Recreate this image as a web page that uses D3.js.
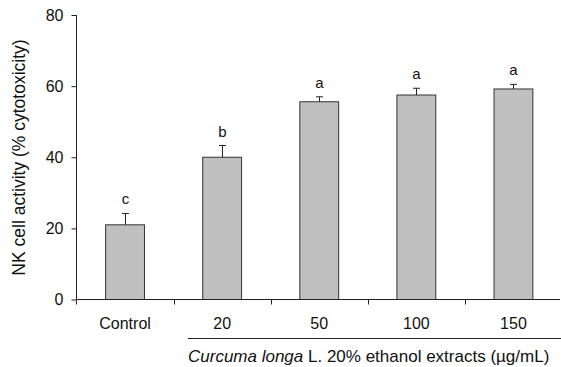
<!DOCTYPE html>
<html><head><meta charset="utf-8">
<script src="https://cdn.jsdelivr.net/npm/d3@7"></script>
<style>body{margin:0;background:#fff}svg{display:block}text{font-family:"Liberation Sans",Arial,sans-serif;fill:#111}</style>
</head><body>
<script>
const categories = ["Control","20","50","100","150"];
const values = [21.0, 40.0, 55.6, 57.5, 59.2];
const errors = [3.2, 3.3, 1.4, 1.9, 1.3];
const letters = ["c","b","a","a","a"];
const yTicks = [0,20,40,60,80];
const yLabel = "NK cell activity (% cytotoxicity)";
const groupTitleItalic = "Curcuma longa";
const groupTitleRest = " L. 20% ethanol extracts (\u00b5g/mL)";

const W=561,H=367;
const svg=d3.select("body").append("svg").attr("width",W).attr("height",H);
const x=d3.scaleBand().domain(categories).range([76.5,562]).paddingInner(0.6).paddingOuter(0.3);
const xb=d3.scaleBand().domain(categories).range([76.5,562]);
const y=d3.scaleLinear().domain([0,80]).range([299.5,15]);

// bars
svg.selectAll("rect.bar").data(values).join("rect")
  .attr("x",(d,i)=>x(categories[i])).attr("width",x.bandwidth())
  .attr("y",d=>y(d)).attr("height",d=>y(0)-y(d))
  .attr("fill","#c0c0c0").attr("stroke","#333").attr("stroke-width",1);
// error bars
const g=svg.append("g").attr("stroke","#222").attr("stroke-width",1);
values.forEach((v,i)=>{
  const cx=Math.round(x(categories[i])+x.bandwidth()/2)+0.5;
  g.append("line").attr("x1",cx).attr("x2",cx).attr("y1",y(v)).attr("y2",y(v+errors[i]));
  g.append("line").attr("x1",cx-3.5).attr("x2",cx+3.5).attr("y1",y(v+errors[i])).attr("y2",y(v+errors[i]));
  svg.append("text").attr("x",cx).attr("y",y(v+errors[i])-9).attr("text-anchor","middle")
    .attr("font-size",15).text(letters[i]);
});

// y axis
const ya=svg.append("g").attr("transform","translate(76.5,0)")
  .call(d3.axisLeft(y).tickValues(yTicks).tickSize(5).tickPadding(8));
ya.select(".domain").attr("d",`M0,${y(80)}V${y(0)}`);
ya.selectAll("text").attr("font-size",16).style("font-family","Liberation Sans, Arial, sans-serif").attr("fill","#111");
ya.selectAll("line,path").attr("stroke","#222");

// x axis
const xa=svg.append("g").attr("transform",`translate(0,${y(0)})`);
xa.append("line").attr("x1",76.5).attr("x2",560).attr("y1",0).attr("y2",0).attr("stroke","#222");
const tickPos=[76.5].concat(categories.slice(1).map(c=>Math.round(xb(c))+0.5));
xa.selectAll("line.t").data(tickPos).join("line").attr("class","t")
  .attr("x1",d=>d).attr("x2",d=>d).attr("y1",0).attr("y2",5).attr("stroke","#222");
xa.selectAll("text").data(categories).join("text")
  .attr("x",d=>xb(d)+xb.bandwidth()/2).attr("y",29).attr("text-anchor","middle")
  .attr("font-size",16).text(d=>d);

// group line and title
svg.append("line").attr("x1",188).attr("x2",561).attr("y1",338.5).attr("y2",338.5).attr("stroke","#222");
const t=svg.append("text").attr("x",188).attr("y",361.5).attr("text-anchor","start").attr("font-size",17);
t.append("tspan").attr("font-style","italic").text(groupTitleItalic);
t.append("tspan").text(groupTitleRest);

// y label
svg.append("text").attr("transform",`translate(25,${(38+277)/2}) rotate(-90)`)
  .attr("text-anchor","middle").attr("font-size",17.5).text(yLabel);
</script>
</body></html>
